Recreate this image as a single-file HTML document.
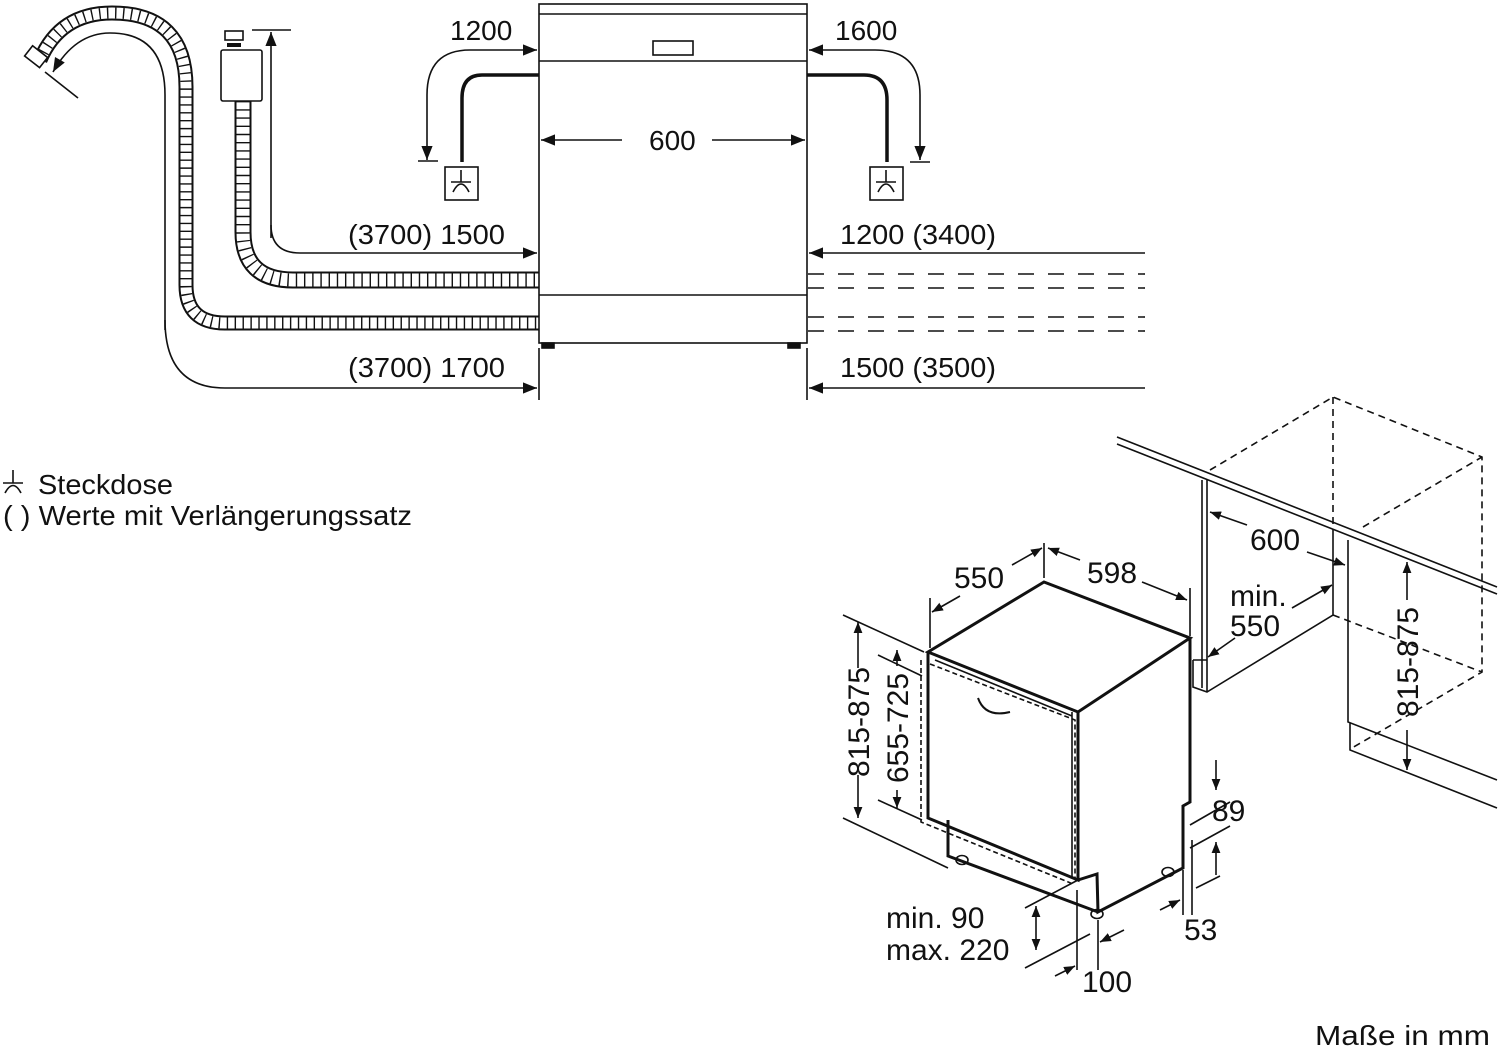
<!DOCTYPE html>
<html><head><meta charset="utf-8"><style>
html,body{margin:0;padding:0;background:#fff;}
svg{display:block;}
text{font-family:"Liberation Sans",sans-serif;fill:#111;}
</style></head><body>
<svg width="1500" height="1051" viewBox="0 0 1500 1051" xmlns="http://www.w3.org/2000/svg">
<defs>
<marker id="a" viewBox="0 0 10 10" refX="10" refY="5" markerWidth="11" markerHeight="11" markerUnits="userSpaceOnUse" orient="auto-start-reverse"><path d="M0,1 L10,5 L0,9 z" fill="#111"/></marker>
<marker id="b" viewBox="0 0 10 10" refX="10" refY="5" markerWidth="16" markerHeight="14" markerUnits="userSpaceOnUse" orient="auto-start-reverse"><path d="M0,1 L10,5 L0,9 z" fill="#111"/></marker>
</defs>
<g fill="none" stroke="#111" stroke-width="1.6">
<!-- drain hose -->
<path id="dh" d="M40 60 Q60 13 112 13 Q186 13 186 87 L186 285 Q186 323 225 323 L539 323" stroke-width="15"/>
<path d="M40 60 Q60 13 112 13 Q186 13 186 87 L186 285 Q186 323 225 323 L539 323" stroke="#fff" stroke-width="11"/>
<path d="M40 60 Q60 13 112 13 Q186 13 186 87 L186 285 Q186 323 225 323 L539 323" stroke-width="11" stroke-dasharray="1.4 6.5"/>
<rect x="27" y="50" width="19" height="13" transform="rotate(38 36 56)" fill="#fff"/>
<!-- inlet hose -->
<path d="M243 101 L243 232 Q243 280 293 280 L539 280" stroke-width="17"/>
<path d="M243 101 L243 232 Q243 280 293 280 L539 280" stroke="#fff" stroke-width="13"/>
<path d="M243 101 L243 232 Q243 280 293 280 L539 280" stroke-width="13" stroke-dasharray="1.4 6.8"/>
<rect x="221" y="50" width="41" height="51" rx="2" fill="#fff"/>
<rect x="225" y="31" width="18" height="9"/>
<line x1="227" y1="45" x2="241" y2="45" stroke-width="4"/>
<!-- dims left -->
<line x1="252" y1="30" x2="291" y2="30"/>
<path d="M271 238 L271 32" marker-end="url(#b)"/>
<path d="M271 225 Q271 253 300 253 L537 253" marker-end="url(#b)"/>
<path d="M165 330 L165 95 Q165 33 110 33 Q75 33 53 72" marker-end="url(#b)"/>
<path d="M165 320 Q165 388 225 388 L537 388" marker-end="url(#b)"/>
<line x1="45" y1="72" x2="78" y2="98"/>
<!-- left cord -->
<path d="M539 75 L482 75 Q462 75 462 98 L462 162" stroke-width="3.5"/>
<rect x="445" y="167" width="33" height="33"/>
<path d="M461 170 L461 182 M451 182 L471 182 M453 192 Q461 176 469 192"/>
<path d="M427 160 L427 95 Q427 50 470 50 L537 50" marker-start="url(#b)" marker-end="url(#b)"/>
<line x1="418" y1="161" x2="438" y2="161"/>
<!-- right cord -->
<path d="M807 75 L864 75 Q887 75 887 100 L887 162" stroke-width="3.5"/>
<rect x="870" y="167" width="33" height="33"/>
<path d="M886 170 L886 182 M876 182 L896 182 M878 192 Q886 176 894 192"/>
<path d="M809 50 L875 50 Q920 50 920 95 L920 160" marker-start="url(#b)" marker-end="url(#b)"/>
<line x1="910" y1="162" x2="930" y2="162"/>
<!-- dishwasher front -->
<rect x="539" y="4" width="268" height="339"/>
<line x1="539" y1="14" x2="807" y2="14"/>
<line x1="539" y1="61" x2="807" y2="61"/>
<rect x="653" y="41" width="40" height="14"/>
<line x1="539" y1="295" x2="807" y2="295"/>
<rect x="542" y="343" width="12" height="5" fill="#111"/>
<rect x="788" y="343" width="12" height="5" fill="#111"/>
<path d="M622 140 L541 140" marker-end="url(#b)"/>
<path d="M712 140 L805 140" marker-end="url(#b)"/>
<line x1="539" y1="348" x2="539" y2="400"/>
<line x1="807" y1="348" x2="807" y2="400"/>
<path d="M1145 253 L809 253" marker-end="url(#b)"/>
<path d="M1145 388 L809 388" marker-end="url(#b)"/>
<g stroke-dasharray="16 14"><line x1="808" y1="274" x2="1145" y2="274"/><line x1="808" y1="288" x2="1145" y2="288"/><line x1="808" y1="317" x2="1145" y2="317"/><line x1="808" y1="331" x2="1145" y2="331"/></g>
<!-- legend symbol -->
<path d="M13 470 L13 483 M3 483 L23 483 M5 493 Q13 478 21 493"/>

<!-- 3D appliance -->
<path d="M928 652 L1044 582 L1190 638 L1078 712 Z" stroke-width="3"/>
<path d="M928 652 L928 818 L1078 880 L1078 712" stroke-width="3"/>
<path d="M1190 638 L1190 802 L1183 806 L1183 868 L1098 912 L1097 874 L1078 880" stroke-width="3"/>
<path d="M948 820 L948 856 L1098 912" stroke-width="3"/>
<path d="M1072 712 L1072 878 M935 660 L1072 716"/>
<g stroke-dasharray="5 3"><path d="M921 660 L921 822 L1073 884 M930 664 L1075 720 L1075 880"/></g>
<path d="M978 698 Q985 718 1010 712" stroke-width="2"/>
<ellipse cx="962" cy="860" rx="6" ry="4.5"/><ellipse cx="1097" cy="914" rx="6" ry="4.5"/><ellipse cx="1168" cy="872" rx="6" ry="4.5"/>
<!-- dims 3D -->
<line x1="930" y1="598" x2="930" y2="648"/><line x1="1044" y1="543" x2="1044" y2="578"/><line x1="1190" y1="588" x2="1190" y2="636"/>
<path d="M960 596 L932 612" marker-end="url(#a)"/><path d="M1012 565 L1042 548" marker-end="url(#a)"/>
<path d="M1080 560 L1048 548" marker-end="url(#a)"/><path d="M1142 582 L1187 600" marker-end="url(#a)"/>
<line x1="843" y1="615" x2="924" y2="652"/><line x1="843" y1="818" x2="948" y2="868"/>
<line x1="878" y1="655" x2="922" y2="676"/><line x1="878" y1="800" x2="922" y2="820"/>
<path d="M858 668 L858 622" marker-end="url(#a)"/><path d="M858 775 L858 818" marker-end="url(#a)"/>
<path d="M897 666 L897 650" marker-end="url(#a)"/><path d="M897 790 L897 808" marker-end="url(#a)"/>
<line x1="1190" y1="825" x2="1230" y2="802"/><line x1="1190" y1="848" x2="1230" y2="826"/>
<path d="M1216 760 L1216 790" marker-end="url(#a)"/><path d="M1216 875 L1216 842" marker-end="url(#a)"/>
<line x1="1183" y1="870" x2="1183" y2="915"/><line x1="1192" y1="840" x2="1192" y2="915"/>
<line x1="1196" y1="888" x2="1220" y2="876"/><path d="M1160 910 L1180 900" marker-end="url(#a)"/>
<line x1="1025" y1="908" x2="1078" y2="880"/><line x1="1025" y1="968" x2="1090" y2="934"/>
<path d="M1036 930 L1036 906" marker-end="url(#a)"/><path d="M1036 930 L1036 950" marker-end="url(#a)"/>
<line x1="1077" y1="890" x2="1077" y2="970"/><line x1="1098" y1="920" x2="1098" y2="970"/>
<path d="M1055 976 L1075 966" marker-end="url(#a)"/><path d="M1124 930 L1100 942" marker-end="url(#a)"/>
<!-- cabinet -->
<line x1="1117" y1="437" x2="1497" y2="587"/><line x1="1117" y1="444" x2="1497" y2="594"/>
<path d="M1202 480 L1202 688 M1207 480 L1207 692 M1193 660 L1207 660 M1193 660 L1193 687 L1207 692 L1333 615 L1333 530 M1348 540 L1348 722 L1497 780 M1350 723 L1350 750 L1497 808"/>
<g stroke-dasharray="7 5"><path d="M1210 470 L1333 397 L1482 457 L1482 672 L1352 748 M1333 397 L1333 530 M1363 527 L1482 457 M1333 615 L1482 672"/></g>
<path d="M1247 525 L1210 512" marker-end="url(#a)"/><path d="M1307 552 L1345 565" marker-end="url(#a)"/>
<path d="M1292 608 L1332 585" marker-end="url(#a)"/><path d="M1235 638 L1208 657" marker-end="url(#a)"/>
<path d="M1407 600 L1407 562" marker-end="url(#a)"/><path d="M1407 730 L1407 770" marker-end="url(#a)"/>
</g>
<g font-size="28">
<text x="450" y="40">1200</text>
<text x="835" y="40">1600</text>
<text x="649" y="150">600</text>
<text x="348" y="244" textLength="157" lengthAdjust="spacingAndGlyphs">(3700) 1500</text>
<text x="348" y="377" textLength="157" lengthAdjust="spacingAndGlyphs">(3700) 1700</text>
<text x="840" y="244" textLength="156" lengthAdjust="spacingAndGlyphs">1200 (3400)</text>
<text x="840" y="377" textLength="156" lengthAdjust="spacingAndGlyphs">1500 (3500)</text>
</g>
<g font-size="28">
<text x="38" y="494" textLength="135" lengthAdjust="spacingAndGlyphs">Steckdose</text>
<text x="3" y="525" textLength="409" lengthAdjust="spacingAndGlyphs">( ) Werte mit Verlängerungssatz</text>
<text x="1315" y="1045" textLength="175" lengthAdjust="spacingAndGlyphs">Maße in mm</text>
</g>
<g font-size="30">
<text x="954" y="588">550</text>
<text x="1087" y="583">598</text>
<text x="1250" y="550">600</text>
<text x="1230" y="606">min.</text>
<text x="1230" y="636">550</text>
<text x="1212" y="821">89</text>
<text x="1184" y="940">53</text>
<text x="1082" y="992">100</text>
<text x="886" y="928">min. 90</text>
<text x="886" y="960">max. 220</text>
<text transform="translate(869 722) rotate(-90)" text-anchor="middle">815-875</text>
<text transform="translate(908 728) rotate(-90)" text-anchor="middle">655-725</text>
<text transform="translate(1418 662) rotate(-90)" text-anchor="middle">815-875</text>
</g>
</svg>
</body></html>
